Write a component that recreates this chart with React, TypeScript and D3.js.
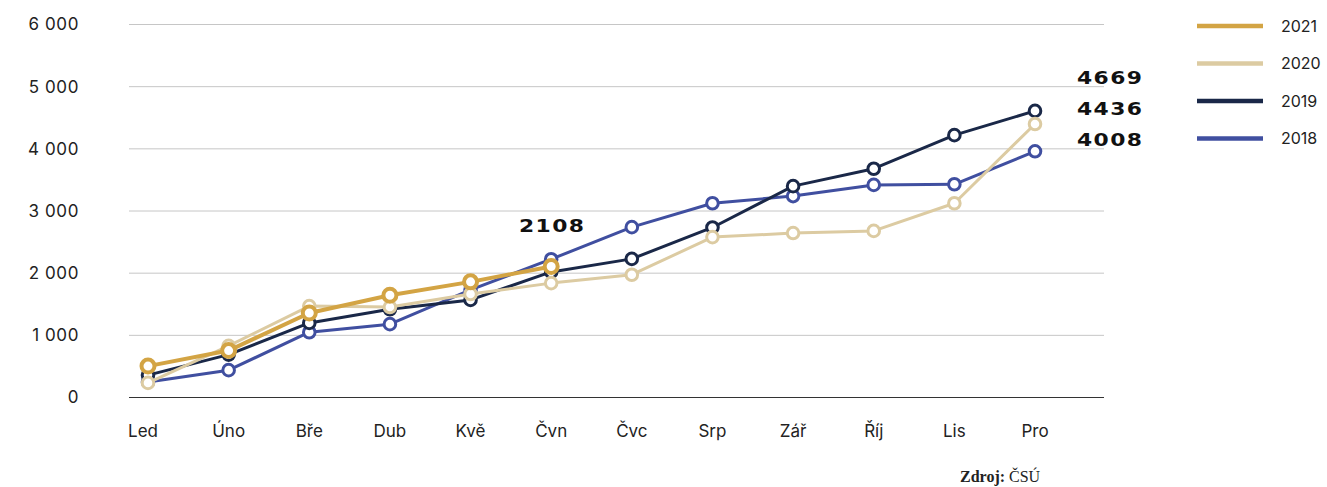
import React, { useEffect } from 'react';
import * as d3 from 'd3';

const months = ['Led', 'Úno', 'Bře', 'Dub', 'Kvě', 'Čvn', 'Čvc', 'Srp', 'Zář', 'Říj', 'Lis', 'Pro'];
const yTicks = [0, 1000, 2000, 3000, 4000, 5000, 6000];

const values2021 = [505, 755, 1360, 1645, 1860, 2108];
const values2020 = [235, 830, 1470, 1455, 1665, 1840, 1975, 2580, 2645, 2680, 3125, 4400];
const values2019 = [360, 690, 1200, 1420, 1570, 2020, 2230, 2735, 3400, 3680, 4220, 4610];
const values2018 = [250, 440, 1050, 1180, 1730, 2225, 2740, 3125, 3240, 3420, 3430, 3960];

const seriesNames = ['2021', '2020', '2019', '2018'];
const endLabels = ['4669', '4436', '4008'];
const midLabel = '2108';

const W = 1327;
const H = 487;

interface Series {
  name: string;
  values: number[];
  color: string;
  width: number;
  r: number;
}

export default function App() {
  useEffect(() => {
    document.body.style.margin = '0';
  }, []);

  const x = d3.scalePoint<string>().domain(months).range([148, 1035]);
  const y = d3.scaleLinear().domain([0, 6000]).range([397.5, 24.5]);

  const series: Series[] = [
    { name: '2018', values: values2018, color: '#404fa0', width: 3, r: 5.8 },
    { name: '2019', values: values2019, color: '#1a2848', width: 3, r: 5.8 },
    { name: '2020', values: values2020, color: '#dccba2', width: 3, r: 5.8 },
    { name: '2021', values: values2021, color: '#d3a444', width: 4, r: 6.5 },
  ];
  const colorOf = (n: string) => series.find(s => s.name === n)!.color;

  const line = d3.line<number>()
    .x((_, i) => x(months[i])!)
    .y(d => y(d));

  const sans = 'Inter, "Noto Sans", sans-serif';
  const labelFont = '"DejaVu Sans", sans-serif';

  // bold value labels: the original uses an extended face, so stretch horizontally
  const wideLabel = (text: string, lx: number, ly: number, anchor: 'start' | 'middle') => (
    <g transform={`translate(${lx},${ly}) scale(1.18,1)`}>
      <text textAnchor={anchor} dy="0.35em" fontFamily={labelFont} fontWeight={700}
        fontSize={18.5} letterSpacing={1.2} fill="#111">{text}</text>
    </g>
  );

  return (
    <svg width={W} height={H} style={{ display: 'block', background: '#fff' }}>
      {yTicks.map(t => (
        <g key={t}>
          <line x1={129} x2={1104} y1={y(t)} y2={y(t)}
            stroke={t === 0 ? '#333' : '#c6c6c6'} strokeWidth={1} />
          <text x={79} y={y(t)} dy="0.35em" textAnchor="end"
            fontFamily={sans} fontSize={17} letterSpacing={0.6} fill="#222">
            {d3.format(',')(t).replace(',', ' ')}
          </text>
        </g>
      ))}

      {months.map((m, i) => (
        <text key={m} x={x(m)! - (i === 0 ? 5 : 0)} y={437} textAnchor="middle"
          fontFamily={sans} fontSize={17} fill="#222">{m}</text>
      ))}

      {series.map(s => (
        <g key={s.name}>
          <path d={line(s.values) || ''} fill="none" stroke={s.color}
            strokeWidth={s.width} strokeLinejoin="round" />
          {s.values.map((v, i) => (
            <circle key={i} cx={x(months[i])} cy={y(v)} r={s.r}
              fill="#fff" stroke={s.color} strokeWidth={s.width} />
          ))}
        </g>
      ))}

      {wideLabel(midLabel, x('Čvn')! + 1, 226, 'middle')}

      {endLabels.map((l, i) => (
        <g key={l}>{wideLabel(l, 1077, 78 + i * 31, 'start')}</g>
      ))}

      {seriesNames.map((n, i) => (
        <g key={n} transform={`translate(1197, ${26 + i * 37.5})`}>
          <line x1={0} x2={66} y1={0} y2={0} stroke={colorOf(n)} strokeWidth={4.5} />
          <text x={84} y={0} dy="0.35em" fontFamily={sans} fontSize={16} fill="#222">{n}</text>
        </g>
      ))}

      <text x={960} y={482} fontFamily='"Liberation Serif", "DejaVu Serif", serif' fontSize={16} fill="#222">
        <tspan fontWeight={700}>Zdroj:</tspan> ČSÚ
      </text>
    </svg>
  );
}
